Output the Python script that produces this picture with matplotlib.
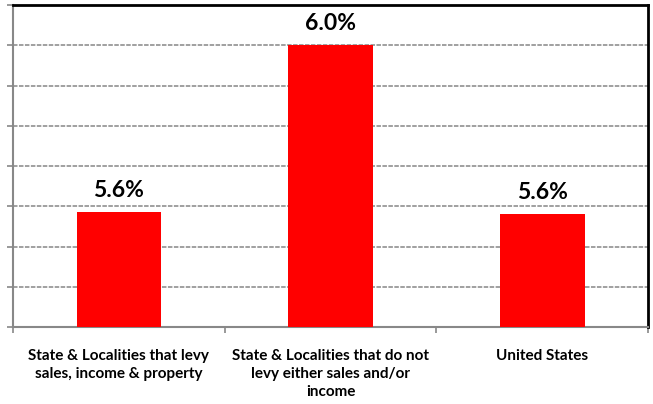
import matplotlib
matplotlib.use("Agg")
import matplotlib.pyplot as plt
import numpy as np

categories = [
    "State & Localities that levy\nsales, income & property",
    "State & Localities that do not\nlevy either sales and/or\nincome",
    "United States",
]
values = [5.585, 6.00, 5.58]

y_min, y_max, y_step = 5.3, 6.1, 0.1

fig = plt.figure(figsize=(6.53, 4.04), dpi=100)
W, H = 653, 404
ax = fig.add_axes([13 / W, (H - 327) / H, (648 - 13) / W, (327 - 5) / H])

x = np.arange(len(categories))
ax.bar(x, values, width=0.4, color="#ff0000", zorder=3)

for xi, v in zip(x, values):
    ax.annotate(f"{v:.1f}%", (xi, v), xytext=(0, 8), textcoords="offset points",
                ha="center", va="bottom", fontsize=16.5, fontweight="bold",
                family="Lato", color="black")

ax.set_xlim(-0.5, len(categories) - 0.5)
ax.set_ylim(y_min, y_max)
ax.set_yticks(np.arange(y_min, y_max + y_step / 2, y_step))
ax.set_yticklabels([])
ax.yaxis.grid(True, color="#999999", linestyle=(0, (2.5, 0.8)), linewidth=1.3, zorder=0)
ax.set_axisbelow(True)

ax.set_xticks(x)
ax.set_xticklabels(categories, fontsize=11, fontweight="bold", family="Lato",
                   linespacing=1.35, va="top")
ax.tick_params(axis="x", which="major", length=0, pad=16)
ax.set_xticks(np.arange(-0.5, len(categories), 1.0), minor=True)
ax.tick_params(axis="x", which="minor", length=4, width=1.2, color="#888888", direction="out")
ax.tick_params(axis="y", length=4, width=1.2, color="#888888", direction="out")

for side in ("left", "bottom"):
    ax.spines[side].set_color("#888888")
    ax.spines[side].set_linewidth(1.5)
for side in ("top", "right"):
    ax.spines[side].set_color("black")
    ax.spines[side].set_linewidth(2.0)

fig.savefig("out.png", dpi=100)
